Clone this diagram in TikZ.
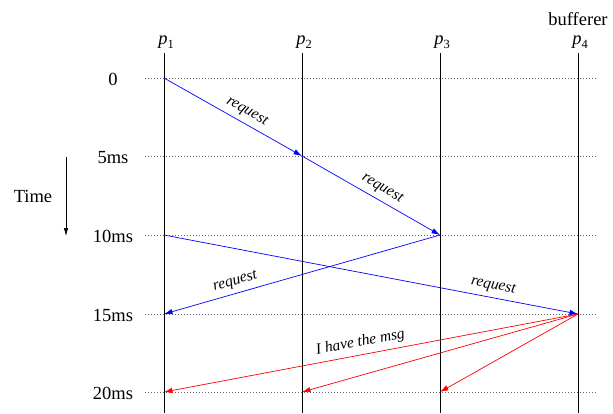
\documentclass[tikz,border=0pt]{standalone}
\usepackage{fontspec}
\setmainfont{Liberation Serif}
\usetikzlibrary{arrows.meta}
\newcommand{\procsub}[1]{\textit{p}\raisebox{-4pt}{\fontsize{12.5}{14}\selectfont #1}}
\begin{document}
\begin{tikzpicture}[x=1pt,y=-1pt,
  procline/.style={line width=0.8pt},
  gridline/.style={gray!80!black, line width=0.7pt, dash pattern=on 0.8pt off 2.2pt},
  msg/.style={line width=0.7pt, -{Latex[length=8.5pt,width=5.5pt]}},
  req/.style={msg, blue},
  rep/.style={msg, red},
  lbl/.style={font=\fontsize{15.5}{18}\selectfont\itshape, text=black, sloped, above, inner xsep=2pt, inner ysep=5pt},
  tlab/.style={font=\fontsize{18.5}{22}\selectfont, inner sep=0pt}]
\useasboundingbox (0,0) rectangle (613,413);
% time grid
\foreach \t/\y/\s in {0/78/0,5/156/5ms,10/235/10ms,15/314/15ms,20/392/20ms} {
  \node[tlab, anchor=base] (tl\t) at (113,\y+7) {\s};
  \coordinate (gl\t) at (145,\y);
  \coordinate (gr\t) at (597,\y);
  \draw[gridline] (gl\t) -- (gr\t);
}
% processes
\foreach \i/\x in {1/164,2/302,3/440,4/578} {
  \node[tlab, anchor=base] (h\i) at (\x+2,44) {\procsub{\i}};
  \coordinate (top\i) at (\x,53);
  \coordinate (bot\i) at (\x,413);
  \draw[procline] (top\i) -- (bot\i);
  \foreach \t/\y in {0/78,5/156,10/235,15/314,20/392}
    \coordinate (p\i t\t) at (\x,\y);
}
\node[tlab, anchor=base] (buf) at (578,25) {bufferer};
% time axis
\node[tlab, anchor=base] (time) at (33,202) {Time};
\coordinate (tas) at (66,157);
\coordinate (tae) at (66,236);
\draw[line width=0.7pt, -{Latex[length=8pt,width=4.5pt]}] (tas) -- (tae);
% requests
\draw[req] (p1t0) -- node[lbl, pos=0.56] (l1) {request} (p2t5);
\draw[req] (p2t5) -- node[lbl, pos=0.54] (l2) {request} (p3t10);
\draw[req] (p3t10) -- node[lbl, pos=0.73] (l3) {request} (p1t15);
\draw[req] (p1t10) -- node[lbl, pos=0.79] (l4) {request} (p4t15);
% replies
\draw[rep] (p4t15) -- node[lbl, pos=0.52] (l5) {I have the msg} (p1t20);
\draw[rep] (p4t15) -- (p2t20);
\draw[rep] (p4t15) -- (p3t20);
\end{tikzpicture}
\end{document}
